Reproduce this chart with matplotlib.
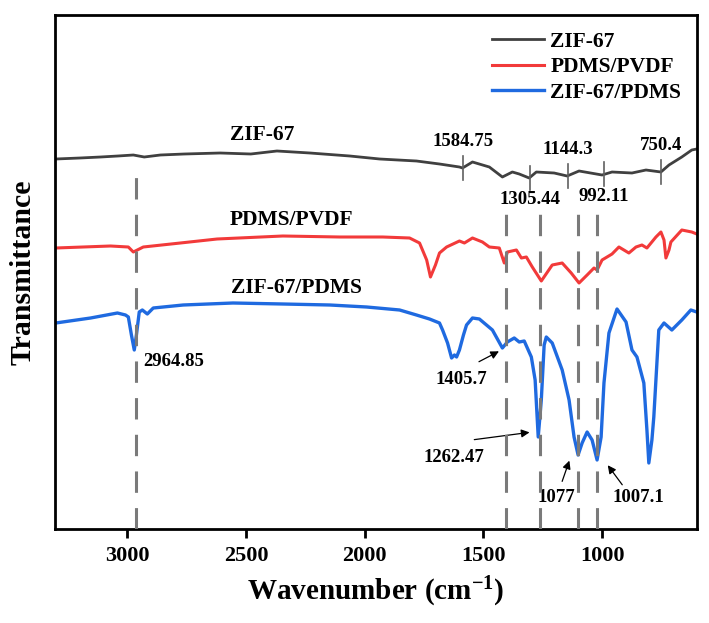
import numpy as np
import matplotlib
matplotlib.use('Agg')
import matplotlib.pyplot as plt

plt.rcParams['font.family'] = 'Liberation Serif'
plt.rcParams['font.weight'] = 'bold'
plt.rcParams['axes.labelweight'] = 'bold'
plt.rcParams['mathtext.fontset'] = 'custom'
plt.rcParams['mathtext.rm'] = 'Liberation Serif:bold'
plt.rcParams['mathtext.bf'] = 'Liberation Serif:bold'
plt.rcParams['mathtext.default'] = 'bf'

# FTIR spectra (wavenumber in cm-1, offset transmittance in a.u.)
zif_wn = [3302, 3200, 3113, 3040, 2975, 2929, 2861, 2760, 2609, 2480, 2370, 2231,
          2063, 1937, 1782, 1685, 1601, 1588, 1546, 1475, 1420, 1378, 1349, 1307,
          1277, 1202, 1147, 1097, 1000, 958, 874, 815, 752, 718, 664, 622, 601]
zif_t = [3.70, 3.71, 3.72, 3.73, 3.74, 3.72, 3.74, 3.75, 3.76, 3.75, 3.78, 3.76,
         3.73, 3.70, 3.68, 3.65, 3.62, 3.61, 3.67, 3.62, 3.52, 3.57, 3.55, 3.51,
         3.57, 3.56, 3.53, 3.58, 3.54, 3.57, 3.56, 3.59, 3.57, 3.64, 3.72, 3.79, 3.80]

pvdf_wn = [3302, 3071, 2996, 2975, 2933, 2777, 2622, 2345, 2105, 1924, 1811, 1769,
           1739, 1723, 1702, 1685, 1655, 1601, 1580, 1546, 1504, 1475, 1433, 1412,
           1399, 1361, 1340, 1319, 1294, 1256, 1210, 1168, 1130, 1097, 1063, 1034,
           1021, 1000, 958, 929, 887, 857, 832, 811, 773, 752, 739, 731, 718, 710,
           664, 622, 601]
pvdf_t = [2.81, 2.83, 2.82, 2.77, 2.82, 2.86, 2.90, 2.93, 2.92, 2.92, 2.91, 2.86,
          2.69, 2.52, 2.64, 2.76, 2.82, 2.88, 2.86, 2.91, 2.87, 2.82, 2.81, 2.66,
          2.77, 2.79, 2.71, 2.72, 2.62, 2.48, 2.64, 2.66, 2.56, 2.46, 2.54, 2.61,
          2.59, 2.69, 2.75, 2.82, 2.76, 2.82, 2.84, 2.81, 2.92, 2.97, 2.89, 2.71,
          2.79, 2.87, 2.99, 2.97, 2.95]

pdms_wn = [3302, 3155, 3042, 3008, 2996, 2983, 2971, 2962, 2950, 2937, 2916, 2891,
           2765, 2555, 2345, 2147, 1992, 1853, 1782, 1727, 1685, 1672, 1651, 1634,
           1622, 1613, 1601, 1584, 1571, 1546, 1517, 1462, 1420, 1399, 1370, 1349,
           1328, 1298, 1282, 1269, 1256, 1244, 1235, 1210, 1168, 1139, 1118, 1101,
           1084, 1063, 1042, 1021, 1004, 992, 971, 937, 899, 874, 853, 824, 811,
           803, 790, 782, 761, 739, 706, 664, 626, 601]
pdms_t = [2.06, 2.11, 2.16, 2.14, 2.12, 1.94, 1.79, 1.94, 2.17, 2.19, 2.15, 2.21,
          2.24, 2.26, 2.25, 2.24, 2.22, 2.19, 2.14, 2.10, 2.06, 1.99, 1.86, 1.71,
          1.74, 1.72, 1.79, 1.94, 2.04, 2.11, 2.10, 1.99, 1.81, 1.87, 1.91, 1.87,
          1.88, 1.72, 1.49, 0.92, 1.29, 1.84, 1.92, 1.86, 1.59, 1.29, 0.92, 0.74,
          0.86, 0.97, 0.89, 0.69, 0.92, 1.46, 1.96, 2.20, 2.07, 1.79, 1.72, 1.46,
          0.99, 0.66, 0.89, 1.12, 1.99, 2.06, 1.99, 2.09, 2.19, 2.17]

series_names = ['ZIF-67', 'PDMS/PVDF', 'ZIF-67/PDMS']
colors = ['#404040', '#f23a3a', '#1f6ae0']

# ZIF-67 peak marks
zif_peaks = [1584.75, 1305.44, 1144.3, 992.11, 750.4]
zif_peak_above = [True, False, True, False, True]

# dashed reference lines
dash_pos = [2964.85, 1405.7, 1262.47, 1100, 1020]
dash_top = [3.59, 3.21, 3.21, 3.21, 3.21]

fig = plt.figure(figsize=(7.09, 6.23), dpi=100)
ax = fig.add_axes([55 / 709, 1 - 529 / 623, 642 / 709, 514 / 623])

ax.plot(zif_wn, zif_t, color=colors[0], lw=2.0, label=series_names[0])
ax.plot(pvdf_wn, pvdf_t, color=colors[1], lw=2.2, label=series_names[1])
ax.plot(pdms_wn, pdms_t, color=colors[2], lw=2.4, label=series_names[2])

for x, top in zip(dash_pos, dash_top):
    ax.plot([x, x], [0, top], color='#7a7a7a', lw=2.2, dashes=(7, 5), zorder=5)

zwn = np.array(zif_wn[::-1])
zt = np.array(zif_t[::-1])
for p, above in zip(zif_peaks, zif_peak_above):
    yv = np.interp(p, zwn, zt)
    ax.plot([p, p], [yv - 0.12, yv + 0.12], color='#606060', lw=1.2, zorder=4)
    if above:
        ax.text(p, yv + 0.26, f'{p:g}', ha='center', va='center', fontsize=13.5)
    else:
        ax.text(p, yv - 0.22, f'{p:g}', ha='center', va='center', fontsize=13.5)

ax.text(2433, 3.94, 'ZIF-67', ha='center', va='center', fontsize=15.5)
ax.text(2307, 3.09, 'PDMS/PVDF', ha='center', va='center', fontsize=15.5)
ax.text(2286, 2.41, 'ZIF-67/PDMS', ha='center', va='center', fontsize=15.5)

ax.text(2933, 1.67, '2964.85', ha='left', va='center', fontsize=13.5)

arrow = dict(arrowstyle='-|>', color='black', lw=0.9, mutation_scale=12)
ax.annotate('', xy=(1424, 1.79), xytext=(1529, 1.66), arrowprops=arrow)
ax.text(1592, 1.49, '1405.7', ha='center', va='center', fontsize=13.5)
ax.annotate('', xy=(1294, 0.97), xytext=(1550, 0.89), arrowprops=arrow)
ax.text(1626, 0.71, '1262.47', ha='center', va='center', fontsize=13.5)
ax.annotate('', xy=(1134, 0.71), xytext=(1172, 0.45), arrowprops=arrow)
ax.text(1193, 0.31, '1077', ha='center', va='center', fontsize=13.5)
ax.annotate('', xy=(983, 0.66), xytext=(908, 0.42), arrowprops=arrow)
ax.text(849, 0.31, '1007.1', ha='center', va='center', fontsize=13.5)

ax.set_xlim(3305, 600)
ax.set_ylim(0, 5.14)
ax.set_xticks([3000, 2500, 2000, 1500, 1000])
ax.set_yticks([])
ax.tick_params(axis='x', direction='out', length=6.5, width=2, labelsize=16, pad=6)
for s in ax.spines.values():
    s.set_linewidth(2)

ax.set_xlabel('Wavenumber (cm$^{-1}$)', fontsize=21, fontweight='bold')
ax.xaxis.set_label_coords(0.5, -0.09)
ax.set_ylabel('Transmittance', fontsize=21.5, fontweight='bold')
ax.yaxis.set_label_coords(-0.028, 0.5)

ax.legend(loc='upper left', bbox_to_anchor=(0.681, 0.967), frameon=False,
          fontsize=15.5, handlelength=2.4, handletextpad=0.3, labelspacing=0.25,
          borderpad=0, borderaxespad=0)

fig.savefig('out.png', dpi=100)
